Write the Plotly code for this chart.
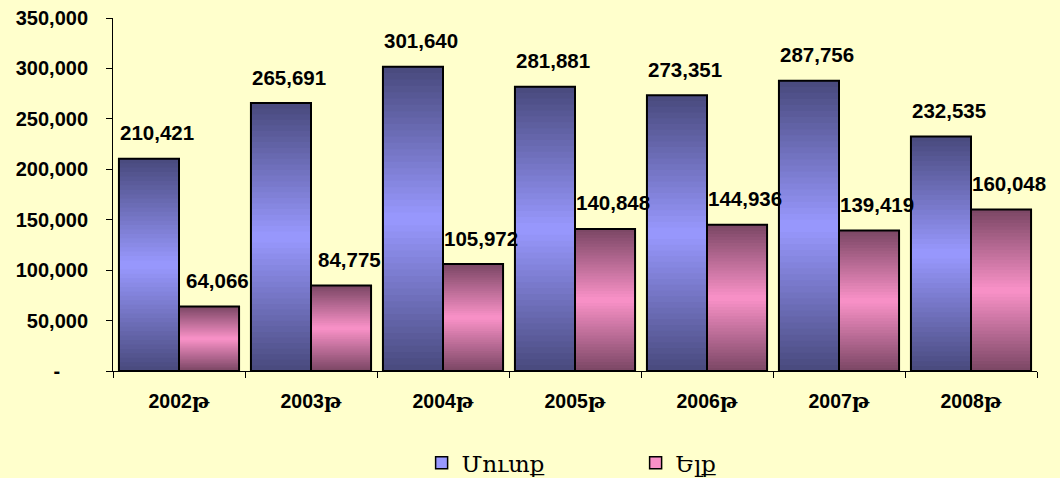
import plotly.graph_objects as go

# Yearly values for the two series
years = ["2002թ", "2003թ", "2004թ", "2005թ", "2006թ", "2007թ", "2008թ"]
inflow = [210421, 265691, 301640, 281881, 273351, 287756, 232535]   # Մուտք
outflow = [64066, 84775, 105972, 140848, 144936, 139419, 160048]    # Ելք
series_names = ["Մուտք", "Ելք"]
y_ticks = [0, 50000, 100000, 150000, 200000, 250000, 300000, 350000]

BAR_W = 0.455
N_STEPS = 48
BG = "#FFFFCC"
LABEL_FONT = "Liberation Sans, Arial, DejaVu Serif"

# (edge colour, centre colour) for the vertical gradient of each series
gradients = [((72, 73, 124), (153, 153, 255)), ((122, 70, 100), (250, 146, 200))]
swatch = ["#9999FF", "#F890C8"]
offsets = [-BAR_W, 0.0]


def mix(c1, c2, t):
    return "rgb({},{},{})".format(*[round(a + (b - a) * t) for a, b in zip(c1, c2)])


fig = go.Figure()

for values, (edge, centre), off in zip([inflow, outflow], gradients, offsets):
    # Each step covers the bar from its own level up to the top; later steps
    # paint over the upper part, leaving a smooth vertical gradient.
    for k in range(N_STEPS):
        t = (k + 0.5) / N_STEPS
        w = 1 - abs(t - 0.5) * 2  # 0 at the edges, 1 at the middle
        fig.add_trace(go.Bar(
            x=years,
            y=[v * (N_STEPS - k) / N_STEPS for v in values],
            base=[v * k / N_STEPS for v in values],
            offset=off, width=BAR_W,
            marker=dict(color=mix(edge, centre, w), line=dict(width=0)),
            showlegend=False, hoverinfo="skip",
        ))
    # Outline of the full bar
    fig.add_trace(go.Bar(
        x=years, y=values, offset=off, width=BAR_W,
        marker=dict(color="rgba(0,0,0,0)", line=dict(color="black", width=2)),
        showlegend=False, hoverinfo="skip",
    ))

# Legend entries
for name, col in zip(series_names, swatch):
    fig.add_trace(go.Bar(
        x=[None], y=[None], name=name,
        marker=dict(color=col, line=dict(color="black", width=1.5)),
    ))

# Value labels above the bars
for values, off in zip([inflow, outflow], offsets):
    for i, v in enumerate(values):
        fig.add_annotation(
            x=i + off + BAR_W / 2, y=v, xref="x", yref="y",
            text=f"{v:,}", showarrow=False,
            xanchor="center", yanchor="middle", xshift=8, yshift=26,
            font=dict(family=LABEL_FONT, size=20.5, color="black", weight="bold"),
        )

fig.update_layout(
    width=1060, height=478,
    margin=dict(l=113, r=23, t=18, b=107, autoexpand=False),
    paper_bgcolor=BG, plot_bgcolor=BG,
    barmode="overlay",
    showlegend=True,
    legend=dict(
        orientation="h", x=0.334, xanchor="left",
        yref="container", y=0.032, yanchor="middle",
        font=dict(family="DejaVu Serif, Liberation Serif", size=23, color="black"),
        entrywidth=169, entrywidthmode="pixels",
        bgcolor="rgba(0,0,0,0)",
    ),
    xaxis=dict(
        type="category", automargin=False,
        showline=True, linecolor="black", linewidth=1,
        ticks="outside", tickson="boundaries", ticklen=6, tickcolor="black",
        showgrid=False, zeroline=False,
        tickfont=dict(family=LABEL_FONT, size=19.5, color="black", weight="bold"),
        ticklabelstandoff=13,
        range=[-0.5, len(years) - 0.5],
    ),
    yaxis=dict(
        range=[0, 350000], automargin=False,
        tickvals=y_ticks,
        ticktext=[f"{v:,}" if v else "-\u00a0\u00a0\u00a0\u00a0\u00a0" for v in y_ticks],
        showline=True, linecolor="black", linewidth=1,
        ticks="outside", ticklen=6, tickcolor="black",
        showgrid=False, zeroline=False,
        tickfont=dict(family=LABEL_FONT, size=20, color="black", weight="bold"),
        ticklabelstandoff=14,
    ),
)

fig.write_html("out.html")
